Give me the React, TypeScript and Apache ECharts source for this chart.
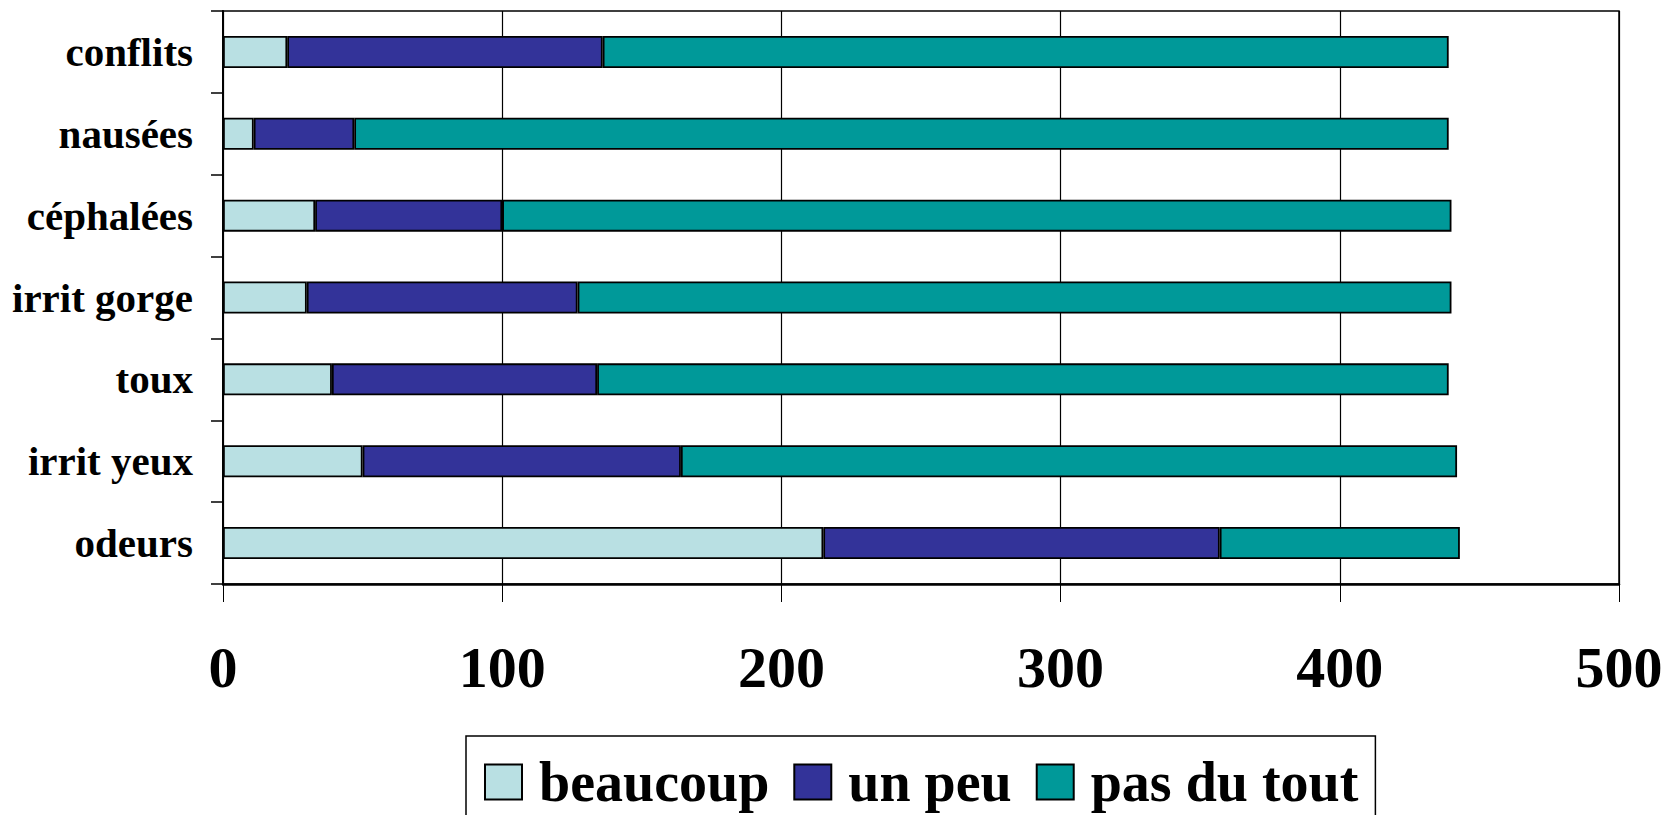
import React, { useEffect, useRef } from "react";
import * as echarts from "echarts";

const categories = ["odeurs", "irrit yeux", "toux", "irrit gorge", "céphalées", "nausées", "conflits"];
const seriesNames = ["beaucoup", "un peu", "pas du tout"];
const beaucoup = [215, 50, 39, 30, 33, 11, 23];
const unPeu = [142, 114, 95, 97, 67, 36, 113];
const pasDuTout = [86, 278, 305, 313, 340, 392, 303];
const xTicks = [0, 100, 200, 300, 400, 500];
const colors = ["#B9E0E3", "#333399", "#009999"];

const FONT = "'Liberation Serif', 'Times New Roman', serif";

export default function App() {
  const ref = useRef<HTMLDivElement>(null);
  useEffect(() => {
    if (!ref.current) return;
    const chart = echarts.init(ref.current, null, { renderer: "svg" });
    const values = [beaucoup, unPeu, pasDuTout];
    chart.setOption({
      animation: false,
      backgroundColor: "#fff",
      grid: {
        left: 223,
        right: 60,
        top: 11,
        bottom: 231,
        show: true,
        borderColor: "#000",
        borderWidth: 1.5,
        containLabel: false,
      },
      legend: {
        data: seriesNames,
        left: 466,
        top: 736,
        orient: "horizontal",
        icon: "rect",
        itemWidth: 37,
        itemHeight: 35,
        itemGap: 24,
        padding: [18, 17, 12, 18],
        borderColor: "#000",
        borderWidth: 1.5,
        textStyle: {
          fontFamily: FONT,
          fontWeight: "bold",
          fontSize: 56,
          color: "#000",
          padding: [0, 0, 0, 12],
        },
      },
      xAxis: {
        type: "value",
        min: xTicks[0],
        max: xTicks[xTicks.length - 1],
        interval: 100,
        axisLine: { show: true, lineStyle: { color: "#000", width: 2.5 } },
        axisTick: { show: true, length: 18, lineStyle: { color: "#000", width: 1 } },
        splitLine: { show: true, lineStyle: { color: "#000", width: 1.2 } },
        axisLabel: {
          margin: 54,
          fontFamily: FONT,
          fontWeight: "bold",
          fontSize: 58,
          color: "#000",
        },
      },
      yAxis: {
        type: "category",
        data: categories,
        axisLine: { show: true, lineStyle: { color: "#000", width: 2 } },
        axisTick: { show: true, length: 12, lineStyle: { color: "#000", width: 1.5 } },
        splitLine: { show: false },
        axisLabel: {
          margin: 30,
          fontFamily: FONT,
          fontWeight: "bold",
          fontSize: 41,
          color: "#000",
        },
      },
      series: seriesNames.map((name, i) => ({
        name,
        type: "bar",
        stack: "total",
        barWidth: 32,
        data: values[i],
        itemStyle: { color: colors[i], borderColor: "#000", borderWidth: 1.8 },
        emphasis: { disabled: true },
      })),
    });
    return () => chart.dispose();
  }, []);
  return (
    <div
      ref={ref}
      style={{ position: "fixed", left: 0, top: 0, width: 1679, height: 815, background: "#fff" }}
    />
  );
}
